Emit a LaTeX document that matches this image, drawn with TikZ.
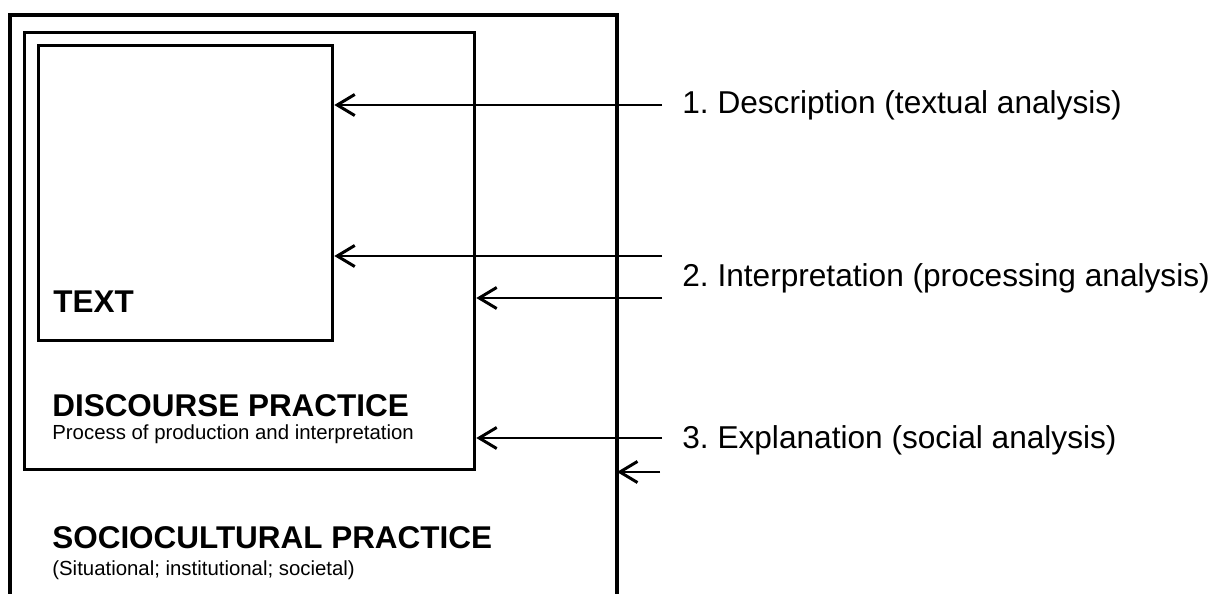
\documentclass[tikz,border=0pt]{standalone}
\usepackage{fontspec}
\setmainfont{Liberation Sans}
\usetikzlibrary{arrows.meta,positioning}
\frenchspacing

\tikzset{
  frame/.style={draw,line width=1.9pt,rectangle,inner sep=0pt,anchor=north west},
  ptr/.style={line width=1.7pt,-{Straight Barb[length=10pt,width=12pt,line width=1.7pt]}},
  lbl/.style={anchor=west,inner sep=0pt,font=\fontsize{18}{21}\selectfont},
  ttl/.style={anchor=west,inner sep=0pt,font=\fontsize{17.9}{21}\selectfont\bfseries},
  sub/.style={anchor=west,inner sep=0pt,font=\fontsize{11.6}{14}\selectfont},
}

\begin{document}
\begin{tikzpicture}[line join=miter,x=0.02cm,y=-0.02cm]
      \useasboundingbox (0,0) rectangle (1212,594);

      % the three practices
      \draw[line width=1.9pt] (10,594) -- (10,15) -- (617,15) -- (617,594);
      \coordinate (social) at (617,472);
      \node[frame,minimum width=9cm,minimum height=8.74cm] (discourse) at (23,31) {};
      \node[frame,minimum width=5.88cm,minimum height=5.9cm] (text) at (37,44) {};

      \node[ttl] (textname) at (53,302) {TEXT};
      \node[ttl] (discname) at (52,406) {DISCOURSE PRACTICE};
      \node[sub] (discsub) at (52,434) {Process of production and interpretation};
      \node[ttl] (socname) at (52,538) {SOCIOCULTURAL PRACTICE};
      \node[sub] (socsub) at (52,570) {(Situational; institutional; societal)};

      % the three dimensions
      \node[lbl] (desc) at (682,105) {1. Description (textual analysis)};
      \node[lbl] (interp) at (682,278) {2. Interpretation (processing analysis)};
      \node[lbl] (expl) at (682,440) {3. Explanation (social analysis)};

      \coordinate (d1) at (662,105);
      \coordinate (i1) at (662,256);
      \coordinate (i2) at (662,298);
      \coordinate (e1) at (662,438);
      \coordinate (e2) at (660,472);

      \draw[ptr] (d1) -- (d1 -| text.east);
      \draw[ptr] (i1) -- (i1 -| text.east);
      \draw[ptr] (i2) -- (i2 -| discourse.east);
      \draw[ptr] (e1) -- (e1 -| discourse.east);
      \draw[ptr] (e2) -- (social);
    \end{tikzpicture}
\end{document}
